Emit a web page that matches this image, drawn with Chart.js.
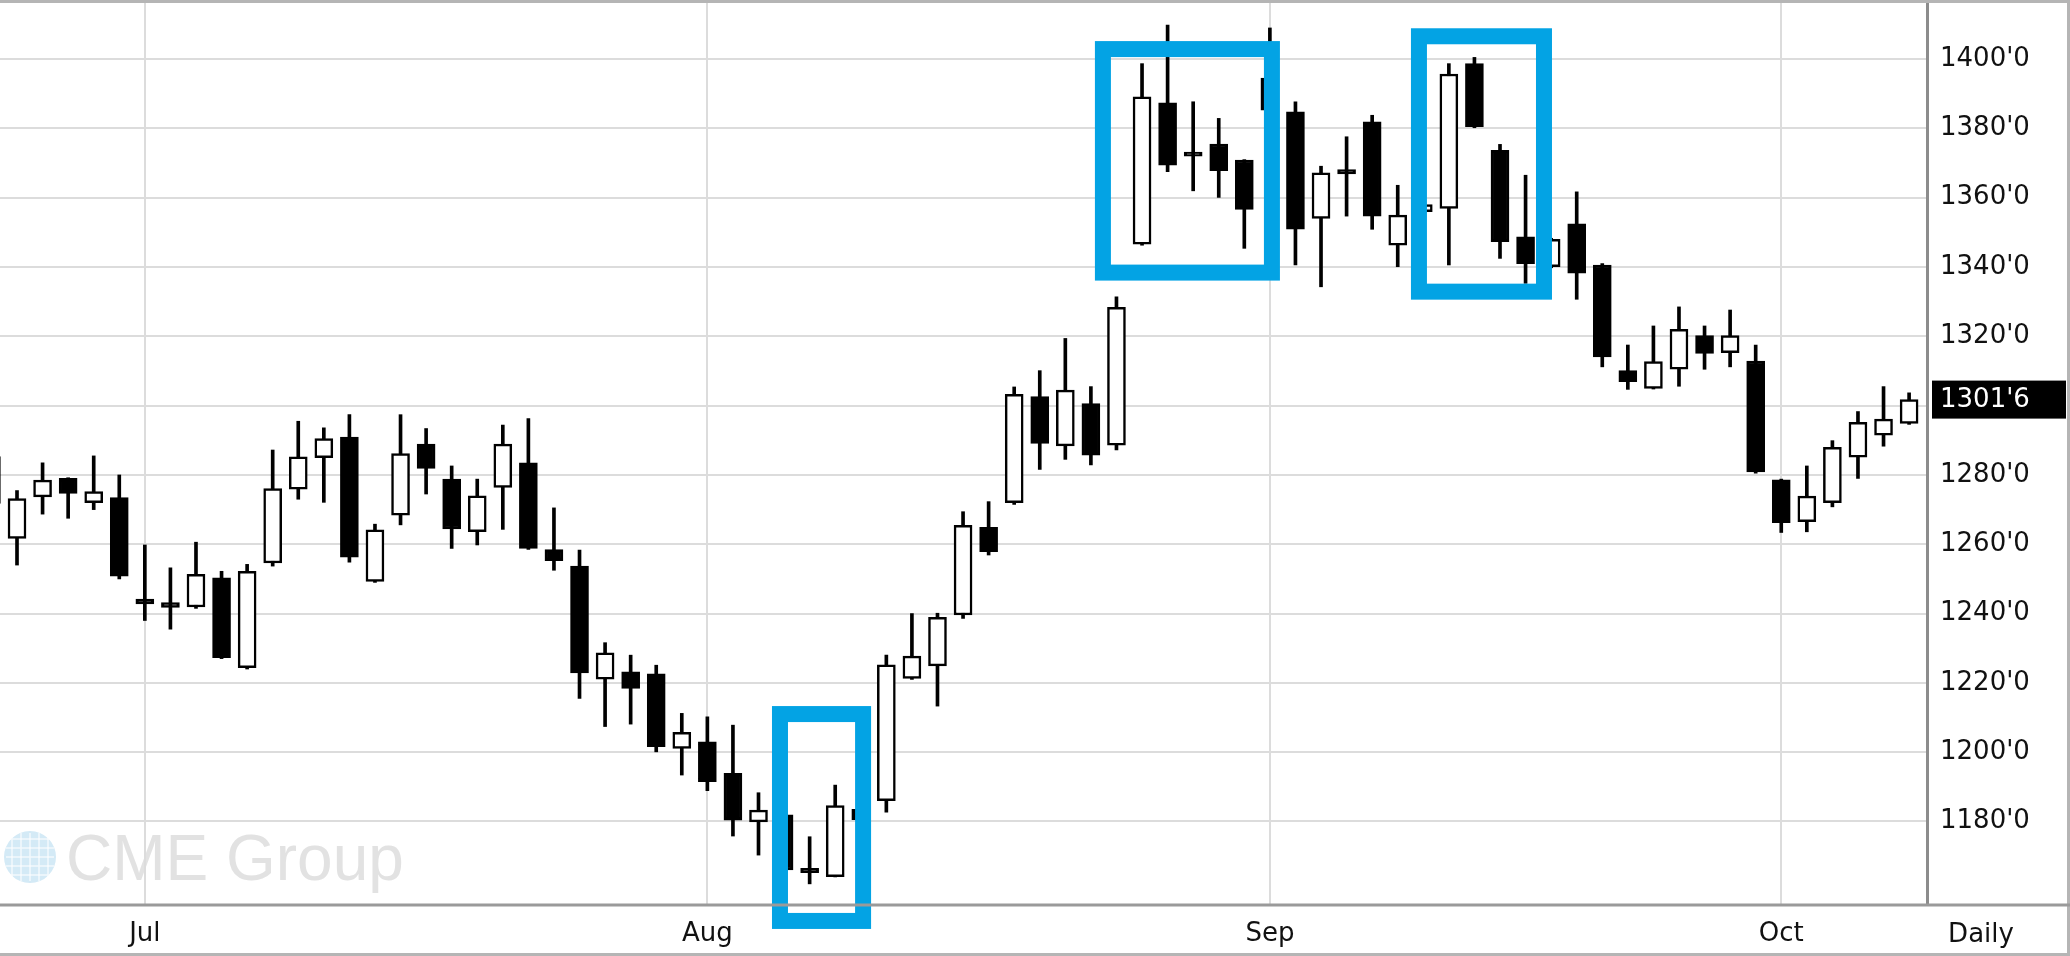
<!DOCTYPE html>
<html>
<head>
<meta charset="utf-8">
<script src="https://cdn.jsdelivr.net/npm/chart.js@4.4.1/dist/chart.umd.min.js"></script>
<style>
html, body { margin: 0; padding: 0; background: #fff; }
#wrap { width: 2070px; height: 956px; position: relative; }
</style>
</head>
<body>
<div id="wrap"><canvas id="priceChart"></canvas></div>
<script>
// daily OHLC, candle 0 is cut off by the left edge
const opens  = [1271.8, 1261.7, 1273.7, 1279.0, 1272.0, 1273.5, 1244.2, 1243.2, 1241.9, 1250.3,
                1224.4, 1254.6, 1275.9, 1285.0, 1290.9, 1249.3, 1268.4, 1288.9, 1278.8, 1263.6,
                1276.4, 1283.5, 1258.5, 1253.7, 1221.1, 1223.2, 1222.6, 1201.1, 1203.0, 1193.9,
                1179.9, 1181.9, 1166.5, 1164.1, 1183.5, 1186.0, 1221.3, 1224.9, 1239.6, 1264.9,
                1272.0, 1302.6, 1288.4, 1300.6, 1288.6, 1346.6, 1387.4, 1373.2, 1375.5, 1370.9,
                1394.5, 1384.8, 1354.0, 1368.1, 1381.9, 1346.3, 1356.0, 1356.9, 1398.7, 1373.7,
                1348.7, 1340.1, 1352.5, 1340.6, 1310.1, 1305.0, 1310.5, 1320.2, 1315.3, 1312.9,
                1278.6, 1266.5, 1272.0, 1285.1, 1291.5, 1294.9];
const highs  = [1287.0, 1275.5, 1283.5, 1279.2, 1285.5, 1280.0, 1259.8, 1253.2, 1260.6, 1252.2,
                1254.2, 1287.2, 1295.5, 1293.6, 1297.4, 1265.8, 1297.4, 1293.4, 1282.6, 1278.8,
                1294.4, 1296.3, 1270.5, 1258.3, 1231.6, 1228.0, 1225.1, 1211.2, 1210.2, 1207.8,
                1188.3, 1182.0, 1175.6, 1190.5, 1184.0, 1228.0, 1240.0, 1240.1, 1269.4, 1272.3,
                1305.4, 1310.1, 1319.4, 1305.5, 1331.4, 1398.7, 1409.8, 1387.7, 1382.9, 1371.0,
                1409.0, 1387.7, 1369.1, 1377.6, 1383.8, 1363.6, 1358.5, 1398.7, 1400.5, 1375.4,
                1366.5, 1348.3, 1361.7, 1341.0, 1317.5, 1323.0, 1328.5, 1323.0, 1327.6, 1317.5,
                1278.8, 1282.6, 1289.9, 1298.3, 1305.5, 1303.7];
const lows   = [1268.0, 1254.0, 1268.7, 1267.5, 1270.0, 1250.0, 1238.0, 1235.5, 1241.5, 1227.0,
                1224.0, 1253.7, 1273.0, 1272.1, 1254.8, 1249.0, 1265.6, 1274.5, 1258.8, 1259.8,
                1264.3, 1258.5, 1252.5, 1215.5, 1207.4, 1208.1, 1200.1, 1193.4, 1188.9, 1175.8,
                1170.3, 1165.5, 1162.0, 1164.0, 1180.0, 1182.7, 1221.0, 1213.3, 1238.6, 1256.9,
                1271.5, 1281.6, 1284.5, 1282.9, 1287.2, 1346.3, 1367.5, 1362.0, 1360.1, 1345.4,
                1384.0, 1340.6, 1334.3, 1354.7, 1350.9, 1340.1, 1355.5, 1340.6, 1380.2, 1342.5,
                1335.3, 1339.8, 1330.7, 1311.2, 1304.7, 1304.8, 1305.6, 1310.5, 1311.2, 1280.5,
                1263.4, 1263.6, 1270.8, 1279.0, 1288.3, 1294.6];
const closes = [1285.3, 1273.2, 1278.5, 1274.7, 1275.2, 1250.8, 1242.8, 1241.8, 1251.3, 1227.3,
                1252.2, 1276.1, 1285.2, 1290.5, 1256.3, 1264.2, 1286.2, 1281.9, 1264.4, 1274.0,
                1288.9, 1258.8, 1255.3, 1222.9, 1228.7, 1218.4, 1201.6, 1205.7, 1191.5, 1180.4,
                1183.3, 1166.0, 1165.2, 1184.6, 1180.5, 1225.2, 1227.7, 1238.9, 1265.5, 1257.9,
                1303.3, 1289.1, 1304.5, 1285.7, 1328.4, 1389.1, 1369.4, 1372.0, 1367.8, 1356.6,
                1385.3, 1350.9, 1367.2, 1366.9, 1354.7, 1355.0, 1358.0, 1395.7, 1380.5, 1347.3,
                1341.0, 1348.0, 1338.2, 1314.1, 1306.9, 1312.7, 1322.0, 1315.1, 1320.2, 1280.9,
                1266.2, 1273.9, 1288.0, 1295.2, 1296.1, 1301.75];

// month starts (candle index) and their labels
const monthTicks  = [6, 28, 50, 70];
const monthLabels = ['Jul', 'Aug', 'Sep', 'Oct'];
const priceTicks  = [1180, 1200, 1220, 1240, 1260, 1280, 1300, 1320, 1340, 1360, 1380, 1400];

// highlighted areas: candle index range and price range
const highlights = [
    { from: 30.84, to: 34.09, top: 1211.0, bottom: 1151.3 },
    { from: 43.47, to: 50.08, top: 1402.9, bottom: 1338.4 },
    { from: 55.83, to: 60.72, top: 1406.6, bottom: 1332.9 }
];

const FONT = 'DejaVu Sans';

function fmtPrice(v) {
    const whole = Math.floor(v);
    const eighths = Math.round((v - whole) * 8);
    return whole + "'" + eighths;
}

const bodies = opens.map((o, i) => ({ x: i, y: [o, closes[i]] }));
const wicks  = opens.map((o, i) => ({ x: i, y: [lows[i], highs[i]] }));
const bodyColors = opens.map((o, i) => closes[i] < o ? '#000' : '#fff');

const chartExtras = {
    id: 'chartExtras',
    beforeDraw(chart) {
        // CME Group watermark
        const ctx = chart.ctx;
        ctx.save();
        ctx.fillStyle = '#d4eaf6';
        ctx.beginPath();
        ctx.arc(30, 857, 26, 0, Math.PI * 2);
        ctx.fill();
        ctx.strokeStyle = 'rgba(255,255,255,0.7)';
        ctx.lineWidth = 1.5;
        for (let k = -2; k <= 2; k++) {
            ctx.beginPath();
            ctx.moveTo(6, 857 + k * 9);
            ctx.lineTo(54, 857 + k * 9);
            ctx.moveTo(30 + k * 9, 833);
            ctx.lineTo(30 + k * 9, 881);
            ctx.stroke();
        }
        ctx.fillStyle = '#e2e2e2';
        ctx.font = '64px "Liberation Sans"';
        ctx.textBaseline = 'alphabetic';
        ctx.fillText('CME Group', 66, 880);
        ctx.restore();
    },
    afterDatasetsDraw(chart) {
        const ctx = chart.ctx;
        const xs = chart.scales.x, ys = chart.scales.y;
        ctx.save();
        ctx.strokeStyle = '#03a3e4';
        ctx.lineWidth = 16;
        highlights.forEach(h => {
            const x1 = xs.getPixelForValue(h.from), x2 = xs.getPixelForValue(h.to);
            const y1 = ys.getPixelForValue(h.top), y2 = ys.getPixelForValue(h.bottom);
            ctx.strokeRect(x1, y1, x2 - x1, y2 - y1);
        });
        ctx.restore();
    },
    afterDraw(chart) {
        const ctx = chart.ctx;
        const ys = chart.scales.y;
        const area = chart.chartArea;
        const W = chart.width, H = chart.height;
        ctx.save();
        // frame
        ctx.strokeStyle = '#b5b5b5';
        ctx.lineWidth = 3;
        ctx.beginPath();
        ctx.moveTo(0, 1.5); ctx.lineTo(W, 1.5);
        ctx.moveTo(W - 1.5, 0); ctx.lineTo(W - 1.5, H);
        ctx.moveTo(0, H - 1.5); ctx.lineTo(W, H - 1.5);
        ctx.stroke();
        ctx.strokeStyle = '#9a9a9a';
        ctx.beginPath();
        ctx.moveTo(0, area.bottom); ctx.lineTo(W, area.bottom);
        ctx.stroke();

        // last price tag
        const last = closes[closes.length - 1];
        const py = ys.getPixelForValue(last);
        ctx.fillStyle = '#000';
        ctx.fillRect(area.right + 5, py - 19, W - area.right - 9, 38);
        ctx.fillStyle = '#fff';
        ctx.font = '26px "' + FONT + '"';
        ctx.textBaseline = 'middle';
        ctx.textAlign = 'left';
        ctx.fillText(fmtPrice(last), area.right + 13, py + 1);

        // period label
        ctx.fillStyle = '#111';
        ctx.textAlign = 'center';
        ctx.fillText('Daily', 1981, 935);
        ctx.restore();
    }
};

new Chart(document.getElementById('priceChart'), {
    type: 'bar',
    data: {
        datasets: [
            {
                label: 'body',
                data: bodies,
                backgroundColor: bodyColors,
                borderColor: '#000',
                borderWidth: 2.5,
                borderSkipped: false,
                barThickness: 18,
                grouped: false,
                order: 1
            },
            {
                label: 'wick',
                data: wicks,
                backgroundColor: '#000',
                borderWidth: 0,
                barThickness: 3,
                grouped: false,
                order: 2
            }
        ]
    },
    options: {
        responsive: true,
        maintainAspectRatio: false,
        animation: false,
        devicePixelRatio: 1,
        layout: { padding: { top: 3, bottom: 3, left: 0, right: 2 } },
        plugins: {
            legend: { display: false },
            tooltip: { enabled: false }
        },
        scales: {
            x: {
                type: 'linear',
                position: 'bottom',
                min: 0.335,
                max: 75.7,
                offset: false,
                afterBuildTicks: scale => {
                    scale.ticks = monthTicks.map(v => ({ value: v }));
                },
                afterFit: scale => {
                    scale.height = 48;
                    scale.paddingLeft = 0;
                    scale.paddingRight = 0;
                },
                grid: { color: '#dcdcdc', lineWidth: 2, drawTicks: false, offset: false },
                border: { display: false },
                ticks: {
                    padding: 14,
                    color: '#111',
                    font: { family: FONT, size: 26 },
                    maxRotation: 0,
                    autoSkip: false,
                    callback: v => monthLabels[monthTicks.indexOf(v)] || ''
                }
            },
            y: {
                position: 'right',
                min: 1155.9,
                max: 1416.2,
                afterBuildTicks: scale => {
                    scale.ticks = priceTicks.map(v => ({ value: v }));
                },
                afterFit: scale => {
                    scale.width = 141;
                    scale.paddingTop = 0;
                    scale.paddingBottom = 0;
                },
                grid: { color: '#dcdcdc', lineWidth: 2, drawTicks: false },
                border: { display: true, color: '#8c8c8c', width: 3 },
                ticks: {
                    padding: 13,
                    color: '#111',
                    font: { family: FONT, size: 26 },
                    callback: v => fmtPrice(v)
                }
            }
        }
    },
    plugins: [chartExtras]
});
</script>
</body>
</html>
